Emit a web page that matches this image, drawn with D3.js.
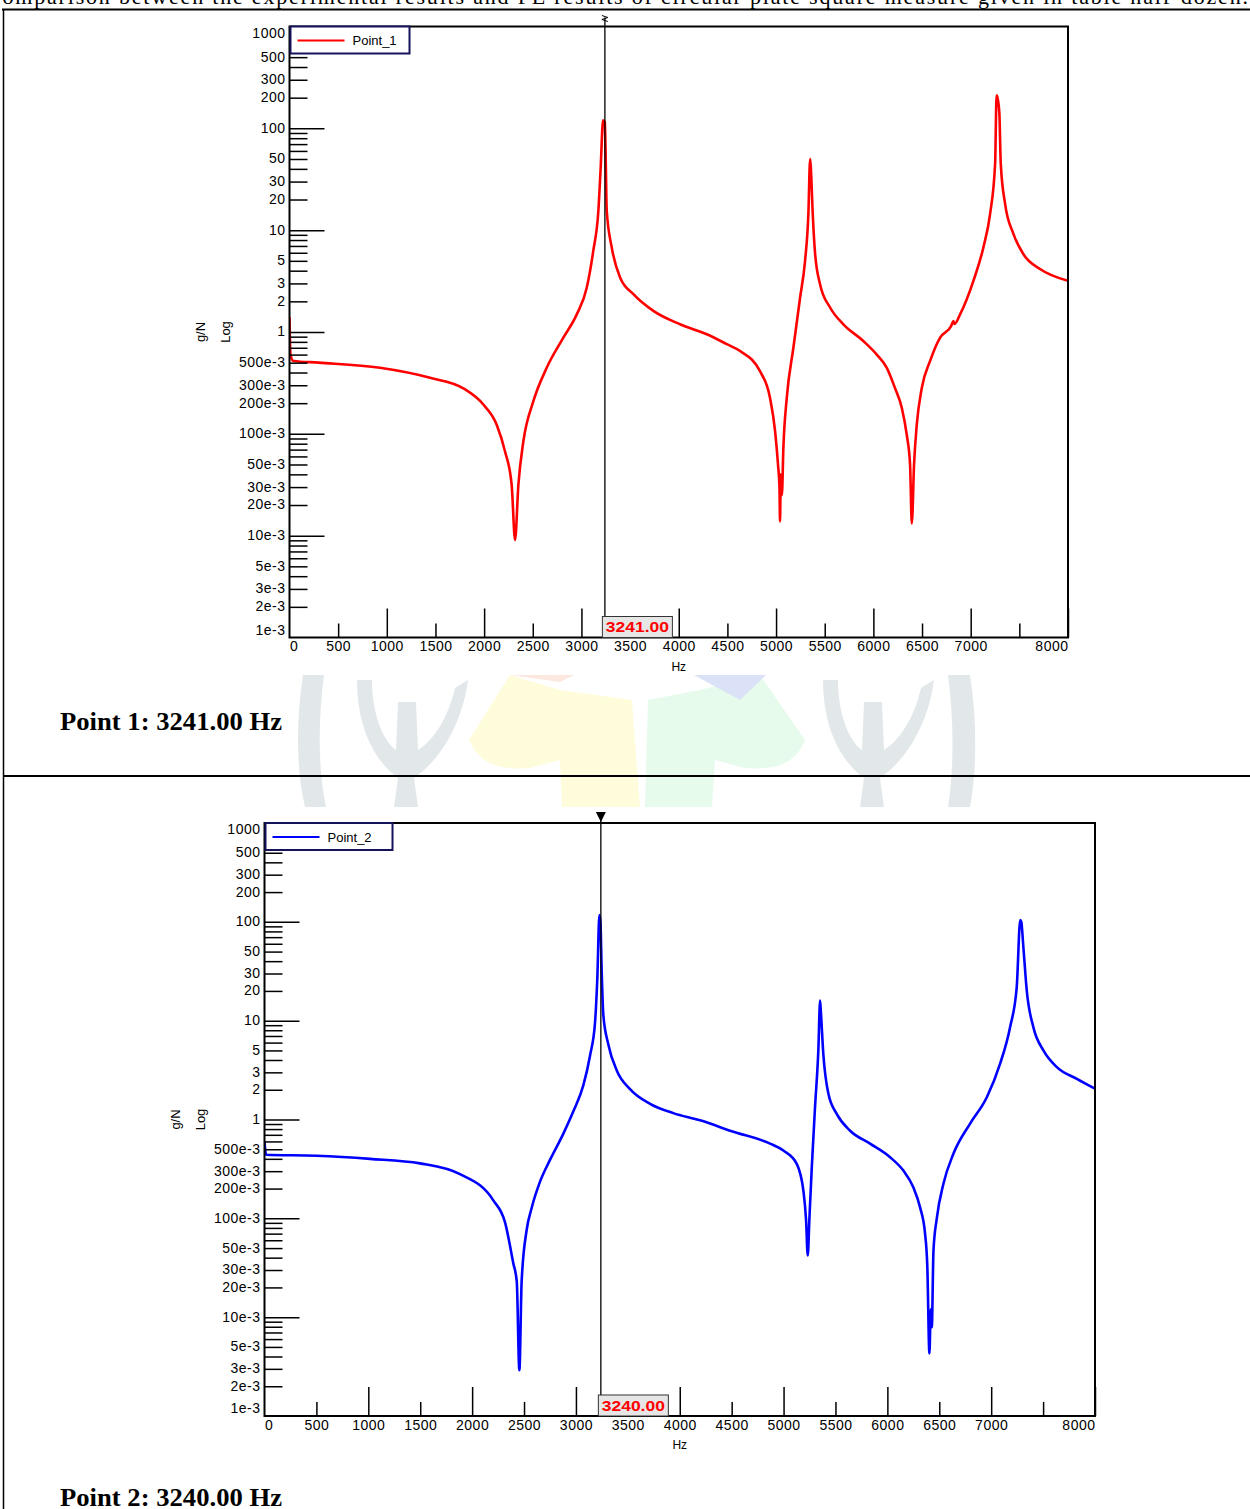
<!DOCTYPE html>
<html>
<head>
<meta charset="utf-8">
<script src="https://cdn.jsdelivr.net/npm/d3@7"></script>
<style>
  body { margin: 0; background: #fff; }
  svg { display: block; font-family: "Liberation Sans", Arial, sans-serif; }
  .axis path { display: none; }
  .axis line { stroke: #000; stroke-width: 1.5; }
  .axis text { font-size: 14px; fill: #000; letter-spacing: 0.5px; }
</style>
</head>
<body>
<div id="viz"></div>
<script>
// ---- data ----
var freq1 = [0, 10, 40, 300, 930, 1444, 1786, 1992, 2129, 2215, 2283, 2318, 2352, 2403, 2506, 2643, 2814, 2952, 3055, 3122, 3174, 3198, 3222, 3240, 3248, 3260, 3311, 3397, 3534, 3739, 4013, 4288, 4493, 4630, 4836, 4938, 4990, 5020, 5035, 5041, 5048, 5060, 5075, 5110, 5178, 5247, 5298, 5332, 5350, 5358, 5377, 5401, 5452, 5555, 5692, 5897, 6035, 6138, 6223, 6292, 6343, 6377, 6395, 6418, 6446, 6497, 6583, 6686, 6800, 6822, 6835, 6891, 7028, 7131, 7199, 7251, 7266, 7280, 7295, 7309, 7354, 7439, 7542, 7713, 8000];
var mag1 = [1.4, 0.6, 0.52, 0.5, 0.445, 0.355, 0.28, 0.194, 0.123, 0.067, 0.0316, 0.0091, 0.0316, 0.084, 0.209, 0.445, 0.88, 1.49, 2.73, 6.3, 15.5, 41.5, 120, 115, 60, 15.5, 6.8, 3.43, 2.35, 1.61, 1.19, 0.95, 0.76, 0.65, 0.41, 0.225, 0.106, 0.05, 0.03, 0.0138, 0.04, 0.025, 0.072, 0.225, 0.70, 2.18, 5.0, 14.4, 50, 40, 14.4, 5.9, 2.95, 1.74, 1.19, 0.815, 0.60, 0.445, 0.28, 0.18, 0.098, 0.05, 0.0132, 0.05, 0.123, 0.28, 0.52, 0.88, 1.15, 1.28, 1.2, 1.49, 3.18, 6.8, 14.4, 45, 211, 190, 139, 45, 18, 9.2, 5.8, 4.15, 3.18];

var freq2 = [0, 15, 500, 1016, 1498, 1883, 2204, 2317, 2397, 2430, 2455, 2477, 2526, 2574, 2654, 2750, 2879, 2975, 3071, 3136, 3184, 3206, 3226, 3236, 3248, 3264, 3312, 3393, 3521, 3714, 3938, 4196, 4500, 4870, 4998, 5127, 5191, 5217, 5233, 5249, 5272, 5303, 5335, 5352, 5360, 5383, 5432, 5512, 5641, 5833, 6026, 6154, 6250, 6315, 6363, 6385, 6405, 6418, 6428, 6444, 6476, 6540, 6636, 6797, 6958, 7086, 7182, 7246, 7280, 7290, 7310, 7343, 7406, 7503, 7632, 7825, 8000];
var mag2 = [0.6, 0.44, 0.43, 0.40, 0.36, 0.28, 0.152, 0.091, 0.035, 0.023, 0.0029, 0.023, 0.077, 0.128, 0.235, 0.39, 0.72, 1.21, 2.21, 4.45, 9.6, 27, 117, 100, 32, 11.4, 5.75, 3.14, 2.03, 1.44, 1.16, 0.98, 0.76, 0.57, 0.485, 0.356, 0.19, 0.095, 0.042, 0.10, 0.33, 1.33, 5.0, 16, 12, 4.6, 1.82, 1.14, 0.77, 0.57, 0.415, 0.304, 0.206, 0.129, 0.07, 0.032, 0.0043, 0.012, 0.0079, 0.047, 0.10, 0.224, 0.45, 0.91, 1.68, 3.67, 8.6, 21.9, 104, 100, 55.6, 20, 8.6, 5.0, 3.39, 2.58, 2.05];

var xMajor = [1000, 2000, 3000, 4000, 5000, 6000, 7000, 8000];
var xMinor = [500, 1500, 2500, 3500, 4500, 5500, 6500, 7500];
var xLabelVals = [0, 500, 1000, 1500, 2000, 2500, 3000, 3500, 4000, 4500, 5000, 5500, 6000, 6500, 7000, 8000];
var yLabelVals = [1000, 500, 300, 200, 100, 50, 30, 20, 10, 5, 3, 2, 1, 0.5, 0.3, 0.2, 0.1, 0.05, 0.03, 0.02, 0.01, 0.005, 0.003, 0.002, 0.001];
var yLabelText = ["1000", "500", "300", "200", "100", "50", "30", "20", "10", "5", "3", "2", "1", "500e-3", "300e-3", "200e-3", "100e-3", "50e-3", "30e-3", "20e-3", "10e-3", "5e-3", "3e-3", "2e-3", "1e-3"];
var yMajor = [100, 10, 1, 0.1, 0.01];
var decades = [0.001, 0.01, 0.1, 1, 10, 100];

var charts = [
  {name: "Point_1", color: "#ff0000", freq: freq1, mag: mag1, marker: 3241, markerText: "3241.00",
   left: 289.5, right: 1068, top: 26.5, bottom: 637.5, legendW: 119, cap: "Point 1: 3241.00 Hz", capY: 730, head: "bolt"},
  {name: "Point_2", color: "#0000ff", freq: freq2, mag: mag2, marker: 3240, markerText: "3240.00",
   left: 264.5, right: 1095, top: 823, bottom: 1416, legendW: 127, cap: "Point 2: 3240.00 Hz", capY: 1506, head: "tri"}
];

var W = 1250, H = 1509;
var svg = d3.select("#viz").append("svg").attr("width", W).attr("height", H);
svg.append("rect").attr("width", W).attr("height", H).attr("fill", "#fff");

// faint watermark behind the table divider
var wm = svg.append("g");
var wmShapes = [
  ["#e2e8ea", "M303,675 C296,720 296,770 305,807 L326,807 C318,770 318,720 324,675 Z"],
  ["#e2e8ea", "M948,675 C954,720 954,770 948,807 L970,807 C977,770 977,720 970,675 Z"],
  ["#e2e8ea", "M357,680 C357,735 380,765 398,778 L394,807 L418,807 L414,778 C440,760 462,725 468,680 L455,688 C448,718 434,740 418,750 L416,702 L398,702 L396,750 C382,740 372,712 372,680 Z"],
  ["#e2e8ea", "M823,680 C823,735 846,765 864,778 L860,807 L884,807 L880,778 C906,760 928,725 934,680 L921,688 C914,718 900,740 884,750 L882,702 L864,702 L862,750 C848,740 838,712 838,680 Z"],
  ["#fffcdc", "M510,675 L469,740 C480,765 500,770 530,768 L560,760 L562,807 L640,807 L632,700 L560,690 Z"],
  ["#e6fbec", "M760,675 L805,740 C795,765 775,770 745,768 L715,760 L712,807 L645,807 L648,700 L700,690 Z"],
  ["#dbe1f6", "M694,675 L766,675 L740,700 Z"],
  ["#fde8df", "M510,675 L574,675 L560,682 Z"]
];
wm.selectAll("path").data(wmShapes).enter().append("path")
  .attr("d", function(d) { return d[1]; }).attr("fill", function(d) { return d[0]; });

// document text + table borders
svg.append("text").attr("x", -14).attr("y", 4)
  .attr("textLength", 1262).attr("lengthAdjust", "spacing")
  .style("font-family", "'Liberation Serif', 'Times New Roman', serif").style("font-size", "22px")
  .text("Comparison between the experimental results and FE results of circular plate square measure given in table half-dozen.");
svg.append("line").attr("x1", 2).attr("x2", W).attr("y1", 9.5).attr("y2", 9.5).attr("stroke", "#000").attr("stroke-width", 2);
svg.append("line").attr("x1", 3.5).attr("x2", 3.5).attr("y1", 9).attr("y2", H).attr("stroke", "#000").attr("stroke-width", 1.5);
svg.append("line").attr("x1", 3).attr("x2", W).attr("y1", 776).attr("y2", 776).attr("stroke", "#000").attr("stroke-width", 2);

charts.forEach(function(c) {
  var x = d3.scaleLinear().domain([0, 8000]).range([c.left, c.right]);
  var y = d3.scaleLog().domain([0.001, 1000]).range([c.bottom, c.top]);
  var g = svg.append("g");

  // curve
  var clipId = "clip" + c.name;
  g.append("clipPath").attr("id", clipId).append("rect")
    .attr("x", c.left).attr("y", c.top).attr("width", c.right - c.left).attr("height", c.bottom - c.top);
  var pts = c.freq.map(function(f, i) { return [f, c.mag[i]]; });
  var line = d3.line().curve(d3.curveMonotoneX)
    .x(function(d) { return x(d[0]); }).y(function(d) { return y(d[1]); });
  g.append("path").datum(pts).attr("d", line).attr("clip-path", "url(#" + clipId + ")")
    .attr("fill", "none").attr("stroke", c.color).attr("stroke-width", 2.6).attr("stroke-linejoin", "round");

  // y ticks (inward)
  var minor = [];
  decades.forEach(function(d) { for (var k = 2; k <= 9; k++) minor.push(d * k); });
  g.append("g").attr("class", "axis").attr("transform", "translate(" + c.left + ",0)")
    .call(d3.axisLeft(y).tickValues(minor).tickSizeInner(-18).tickSizeOuter(0).tickFormat(""));
  g.append("g").attr("class", "axis").attr("transform", "translate(" + c.left + ",0)")
    .call(d3.axisLeft(y).tickValues(yMajor).tickSizeInner(-35).tickSizeOuter(0).tickFormat(""));
  var yl = g.append("g").attr("class", "axis").attr("transform", "translate(" + c.left + ",0)")
    .call(d3.axisLeft(y).tickValues(yLabelVals).tickSize(0).tickPadding(4)
      .tickFormat(function(d, i) { return yLabelText[i]; }));
  yl.selectAll(".tick").attr("transform", function(d) {
    var yy = Math.max(c.top + 7, Math.min(c.bottom - 7, y(d)));
    return "translate(0," + yy + ")";
  });

  // x ticks (inward)
  g.append("g").attr("class", "axis").attr("transform", "translate(0," + c.bottom + ")")
    .call(d3.axisBottom(x).tickValues(xMinor).tickSizeInner(-14).tickSizeOuter(0).tickFormat(""));
  g.append("g").attr("class", "axis").attr("transform", "translate(0," + c.bottom + ")")
    .call(d3.axisBottom(x).tickValues(xMajor).tickSizeInner(-29).tickSizeOuter(0).tickFormat(""));
  var xl = g.append("g").attr("class", "axis").attr("transform", "translate(0," + c.bottom + ")")
    .call(d3.axisBottom(x).tickValues(xLabelVals).tickSize(0).tickPadding(4).tickFormat(d3.format("d")));
  xl.selectAll("text").attr("text-anchor", function(d) { return d === 0 ? "start" : d === 8000 ? "end" : "middle"; });

  // frame
  g.append("rect").attr("x", c.left).attr("y", c.top).attr("width", c.right - c.left).attr("height", c.bottom - c.top)
    .attr("fill", "none").attr("stroke", "#000").attr("stroke-width", 2);

  // axis titles
  g.append("text").attr("x", (c.left + c.right) / 2).attr("y", c.bottom + 33).attr("text-anchor", "middle")
    .style("font-size", "12px").text("Hz");
  var cy = y(1);
  [["g/N", -85], ["Log", -60]].forEach(function(t) {
    g.append("text").attr("transform", "translate(" + (c.left + t[1]) + "," + cy + ") rotate(-90)")
      .attr("text-anchor", "middle").style("font-size", "13px").text(t[0]);
  });

  // legend
  var lg = g.append("g").attr("transform", "translate(" + (c.left + 1) + "," + c.top + ")");
  lg.append("rect").attr("width", c.legendW).attr("height", 27).attr("fill", "#fff")
    .attr("stroke", "#14145a").attr("stroke-width", 2);
  lg.append("line").attr("x1", 7).attr("x2", 54).attr("y1", 14).attr("y2", 14)
    .attr("stroke", c.color).attr("stroke-width", 2);
  lg.append("text").attr("x", 62).attr("y", 18.5).style("font-size", "13px").text(c.name);

  // marker cursor
  var mx = x(c.marker);
  g.append("line").attr("x1", mx).attr("x2", mx).attr("y1", c.top - 9).attr("y2", c.bottom)
    .attr("stroke", "#000").attr("stroke-width", 1.3);
  if (c.head === "tri") {
    g.append("path").attr("d", "M" + (mx - 5) + "," + (c.top - 11) + " L" + (mx + 5) + "," + (c.top - 11) + " L" + mx + "," + (c.top - 1) + " Z")
      .attr("fill", "#000");
  } else {
    g.append("path").attr("d", "M" + (mx - 3) + "," + (c.top - 11) + " L" + (mx + 3) + "," + (c.top - 9) + " L" + (mx - 3) + "," + (c.top - 7) + " L" + (mx + 3) + "," + (c.top - 5))
      .attr("fill", "none").attr("stroke", "#000").attr("stroke-width", 1);
  }
  g.append("rect").attr("x", mx - 2.5).attr("y", c.bottom - 21).attr("width", 70).attr("height", 21)
    .attr("fill", "#e6e6e6").attr("stroke", "#333").attr("stroke-width", 1);
  g.append("text").attr("x", mx + 32.5).attr("y", c.bottom - 5.5).attr("text-anchor", "middle")
    .attr("textLength", 63).attr("lengthAdjust", "spacingAndGlyphs")
    .style("font-size", "15px").style("font-weight", "bold").attr("fill", "#ff0000").text(c.markerText);

  // caption in the table cell
  svg.append("text").attr("x", 60).attr("y", c.capY)
    .attr("textLength", 222).attr("lengthAdjust", "spacingAndGlyphs")
    .style("font-family", "'Liberation Serif', 'Times New Roman', serif").style("font-size", "25px").style("font-weight", "bold")
    .text(c.cap);
});
</script>
</body>
</html>
